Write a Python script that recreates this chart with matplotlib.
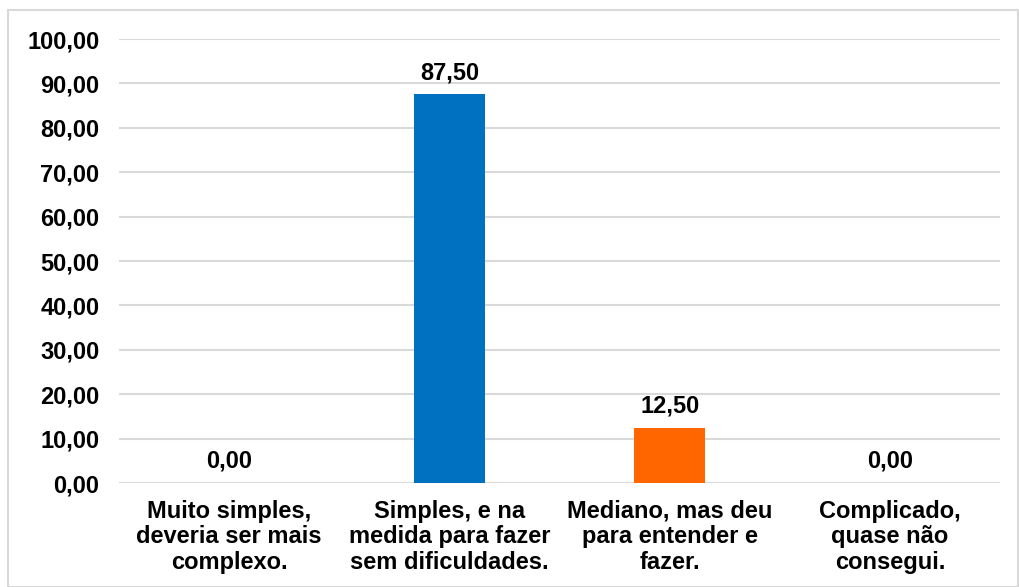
import matplotlib.pyplot as plt
from matplotlib.patches import Rectangle

plt.rcParams['font.family'] = ['Liberation Sans', 'DejaVu Sans']
plt.rcParams['font.weight'] = 'bold'

categories = ['Muito simples,\ndeveria ser mais\ncomplexo.',
              'Simples, e na\nmedida para fazer\nsem dificuldades.',
              'Mediano, mas deu\npara entender e\nfazer.',
              'Complicado,\nquase não\nconsegui.']
values = [0.0, 87.5, 12.5, 0.0]
colors = ['#0070C0', '#0070C0', '#FF6600', '#0070C0']
yticks = list(range(0, 101, 10))

W, H = 1020, 587
fig = plt.figure(figsize=(W / 100, H / 100), dpi=100)
ax = fig.add_axes([119 / W, (H - 483) / H, (1000 - 119) / W, (483 - 39) / H])

x = range(len(categories))
ax.bar(x, values, width=0.32, color=colors, zorder=3)
for i, v in enumerate(values):
    ax.text(i, v + 2.3, f'{v:.2f}'.replace('.', ','), ha='center', va='bottom',
            fontsize=17, fontweight='bold')

ax.set_xlim(-0.5, len(categories) - 0.5)
ax.set_ylim(0, 100)
ax.set_yticks(yticks)
ax.set_yticklabels([f'{t:.2f}'.replace('.', ',') for t in yticks], fontsize=17)
ax.set_xticks(list(x))
ax.set_xticklabels(categories, fontsize=17, linespacing=1.15)
ax.grid(axis='y', color='#D9D9D9', linewidth=1.5, zorder=0)
ax.tick_params(length=0, pad=14)
ax.tick_params(axis='x', pad=12)
for s in ax.spines.values():
    s.set_visible(False)

fig.patches.append(Rectangle((8 / W, 0), (1018 - 8) / W, (H - 10) / H,
                             transform=fig.transFigure, fill=False,
                             edgecolor='#D9D9D9', linewidth=1.5))

fig.savefig('out.png', dpi=100)
